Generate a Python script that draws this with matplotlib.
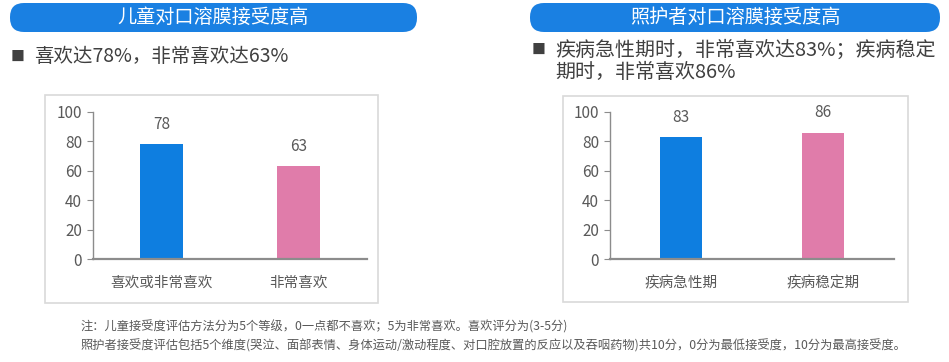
import matplotlib
matplotlib.use("Agg")
import matplotlib.pyplot as plt
from matplotlib.patches import FancyBboxPatch, Rectangle

plt.rcParams['font.family'] = ['Noto Sans CJK SC', 'DejaVu Sans']

# 数据
left_title = '儿童对口溶膜接受度高'
left_note = '喜欢达78%，非常喜欢达63%'
left_cats = ['喜欢或非常喜欢', '非常喜欢']
left_vals = [78, 63]

right_title = '照护者对口溶膜接受度高'
right_note = ['疾病急性期时，非常喜欢达83%；疾病稳定', '期时，非常喜欢86%']
right_cats = ['疾病急性期', '疾病稳定期']
right_vals = [83, 86]

footnotes = [
    '注：儿童接受度评估方法分为5个等级，0一点都不喜欢；5为非常喜欢。喜欢评分为(3-5分)',
    '照护者接受度评估包括5个维度(哭泣、面部表情、身体运动/激动程度、对口腔放置的反应以及吞咽药物)共10分，0分为最低接受度，10分为最高接受度。',
]

yticks = [0, 20, 40, 60, 80, 100]
bar_colors = ['#0E7EE0', '#E07CAA']
banner_color = '#1A80E2'
text_color = '#404040'
axis_grey = '#8C8C8C'

W, H = 949, 362
fig = plt.figure(figsize=(W / 100, H / 100), dpi=100)

# 背景层，以像素为单位
bg = fig.add_axes([0, 0, 1, 1], zorder=0)
bg.set_xlim(0, W)
bg.set_ylim(H, 0)
bg.axis('off')


def banner(x0, x1, title):
    box = FancyBboxPatch((x0, 3), x1 - x0, 29,
                         boxstyle='round,pad=0,rounding_size=14',
                         facecolor=banner_color, edgecolor='none')
    bg.add_patch(box)
    bg.text((x0 + x1) / 2, 17.5, title, color='white', fontsize=13.8,
            ha='center', va='center')


banner(10, 417, left_title)
banner(530, 940, right_title)

# 要点
bg.text(11, 57, '■', color=text_color, fontsize=10, ha='left', va='center')
bg.text(34, 57, left_note, color=text_color, fontsize=14, ha='left', va='center')
bg.text(532, 50, '■', color=text_color, fontsize=10, ha='left', va='center')
bg.text(555, 50, right_note[0], color=text_color, fontsize=14.4, ha='left', va='center')
bg.text(555, 73, right_note[1], color=text_color, fontsize=14.4, ha='left', va='center')

# 图表外框
for fx0, fx1, fy0, fy1 in [(45, 378, 95, 303), (563, 908, 96, 302)]:
    bg.add_patch(Rectangle((fx0, fy0), fx1 - fx0, fy1 - fy0, facecolor='white',
                           edgecolor='#D9D9D9', linewidth=1.2))

# 注释
bg.text(80, 327, footnotes[0], color='#595959', fontsize=8.8, ha='left', va='center')
bg.text(80, 346, footnotes[1], color='#595959', fontsize=8.8, ha='left', va='center')


def bar_chart(x0, x1, cats, vals, width):
    y_bottom, y_top = 259, 112
    ax = fig.add_axes([x0 / W, (H - y_bottom) / H, (x1 - x0) / W, (y_bottom - y_top) / H],
                      zorder=2)
    ax.patch.set_alpha(0)
    x = range(len(cats))
    rects = ax.bar(x, vals, width, color=bar_colors, zorder=2)
    ax.set_xlim(-0.5, len(cats) - 0.5)
    ax.set_ylim(0, 100)
    ax.set_yticks(yticks)
    ax.set_xticks(list(x))
    ax.set_xticklabels(cats)
    for s in ['top', 'right']:
        ax.spines[s].set_visible(False)
    ax.spines['left'].set_color(axis_grey)
    ax.spines['left'].set_linewidth(1.0)
    ax.spines['bottom'].set_color(axis_grey)
    ax.spines['bottom'].set_linewidth(1.6)
    ax.spines['bottom'].set_zorder(3)
    ax.tick_params(axis='y', length=4, color=axis_grey, labelsize=11,
                   labelcolor='#595959', pad=4)
    ax.tick_params(axis='x', length=0, labelsize=10.5, labelcolor='#595959', pad=12)
    for rect in rects:
        h = rect.get_height()
        ax.annotate('{}'.format(h),
                    xy=(rect.get_x() + rect.get_width() / 2, h),
                    xytext=(0, 8), textcoords='offset points',
                    ha='center', va='bottom', fontsize=11, color='#595959')
    return ax


bar_chart(93, 367, left_cats, left_vals, 0.31)
bar_chart(610, 894, right_cats, right_vals, 0.30)

fig.savefig('out.png', dpi=100)
